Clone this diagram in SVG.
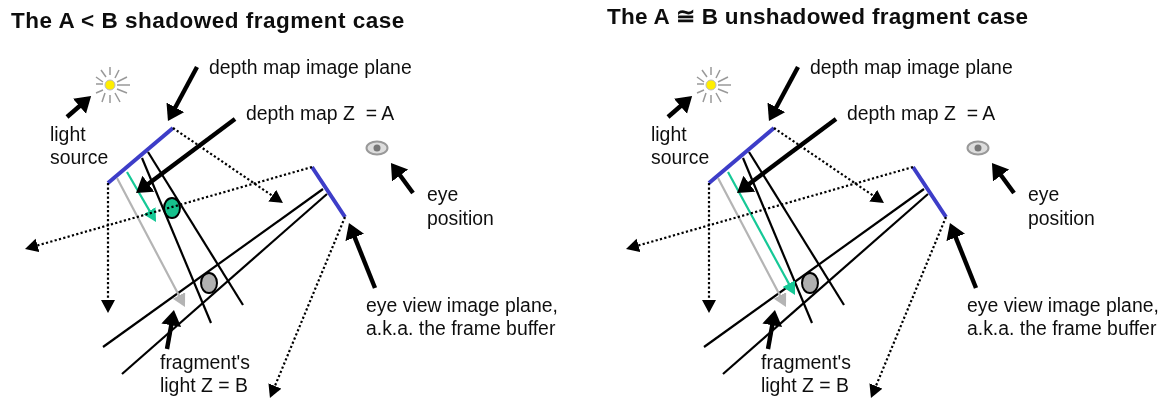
<svg xmlns="http://www.w3.org/2000/svg" width="1163" height="399" viewBox="0 0 1163 399">
<style>
text{font-family:"Liberation Sans",Arial,sans-serif;font-size:19.4px;fill:#111}
.title{font-size:22.5px;font-weight:bold}
.big{stroke:#000;stroke-width:4.4;fill:none;marker-end:url(#bigHead)}
.dot{stroke:#000;stroke-width:2.2;stroke-dasharray:2.2 2.3;fill:none;marker-end:url(#dotHead)}
.plane{stroke:#3c3cc8;stroke-width:4;fill:none}
.gray{stroke:#b4b4b4;stroke-width:2.2;fill:none;marker-end:url(#grayHead)}
.green{stroke:#14c896;stroke-width:2.2;fill:none;marker-end:url(#greenHead)}
.sunray{stroke:#999;stroke-width:1.5}
.frag{stroke:#000;stroke-width:2.2}
</style>
<defs>
<marker id="bigHead" markerUnits="userSpaceOnUse" markerWidth="18" markerHeight="21" refX="9.5" refY="10" orient="auto"><path d="M0 0L15.5 10L0 20Z" fill="#000"/></marker>
<marker id="dotHead" markerUnits="userSpaceOnUse" markerWidth="15" markerHeight="15" refX="10" refY="7" orient="auto"><path d="M0 0L13 7L0 14Z" fill="#000"/></marker>
<marker id="grayHead" markerUnits="userSpaceOnUse" markerWidth="15" markerHeight="15" refX="10" refY="7" orient="auto"><path d="M0 0L13 7L0 14Z" fill="#b4b4b4"/></marker>
<marker id="greenHead" markerUnits="userSpaceOnUse" markerWidth="15" markerHeight="15" refX="10" refY="7" orient="auto"><path d="M0 0L13 7L0 14Z" fill="#14c896"/></marker>
<filter id="soft" x="0" y="0" width="1" height="1" filterUnits="objectBoundingBox"><feGaussianBlur stdDeviation="0.45"/></filter>
<g id="sunIcon">
<circle cx="0" cy="0" r="5" fill="#ffee00" stroke="#bbb" stroke-width="1"/>
<path class="sunray" d="M7 0H20M0-10V-18M0 10V18M5-7L9-15M5 8L10 17M7-3L17-8M7 4L17 8M-4-8L-9-15M-7-3L-14-8M-7-1H-14M-7 5L-14 8M-5 8L-8 17"/>
</g>
<g id="eyeIcon">
<ellipse cx="0" cy="0" rx="10.5" ry="6.5" fill="#ddd" stroke="#999" stroke-width="2"/>
<circle cx="0" cy="0" r="3.5" fill="#777"/>
</g>
</defs>
<g filter="url(#soft)">
<rect width="1163" height="399" fill="#fff"/>
<g id="left-panel">
<text id="left-title" class="title" x="11" y="28" letter-spacing=".5">The A &lt; B shadowed fragment case</text>
<g id="left-sun"><use href="#sunIcon" x="110" y="85"/></g>
<g id="left-eye"><use href="#eyeIcon" x="377" y="148"/></g>
<g id="left-depth-plane"><line class="plane" x1="108" y1="183" x2="173" y2="128"/></g>
<g id="left-eye-plane"><line class="plane" x1="312" y1="167" x2="345" y2="217"/></g>
<g id="left-green-fragment"><ellipse cx="172" cy="208" rx="8" ry="10" fill="#14c08c" stroke="#000" stroke-width="2"/></g>
<g id="left-gray-fragment"><ellipse cx="209" cy="283" rx="8" ry="10" fill="#b0b0b0" stroke="#000" stroke-width="2"/></g>
<g id="left-connectors">
<line class="frag" x1="142" y1="158" x2="211" y2="323"/>
<line class="frag" x1="148" y1="152" x2="243" y2="305"/>
<line class="frag" x1="323" y1="189" x2="103" y2="347"/>
<line class="frag" x1="327" y1="194" x2="122" y2="374"/>
<line class="gray" x1="117" y1="178" x2="183.6" y2="304.3"/>
<line class="green" x1="127" y1="172" x2="154.5" y2="219.4"/>
<line class="dot" x1="173" y1="128" x2="280.5" y2="201.3"/>
<line class="dot" x1="312" y1="167" x2="27.9" y2="248.2"/>
<line class="dot" x1="108" y1="183" x2="108" y2="310"/>
<line class="dot" x1="345" y1="217" x2="271.1" y2="395.2"/>
<line class="big" x1="197" y1="67" x2="170.8" y2="115.7"/>
<line class="big" x1="235" y1="119" x2="140.8" y2="189.4"/>
<line class="big" x1="67" y1="117" x2="86.6" y2="100"/>
<line class="big" x1="167" y1="349" x2="172.9" y2="315.9"/>
<line class="big" x1="413" y1="193" x2="394.5" y2="167.8"/>
<line class="big" x1="375" y1="288" x2="351.2" y2="228.6"/>
</g>
<g id="left-labels">
<text x="209" y="74">depth map image plane</text>
<text x="246" y="120" xml:space="preserve">depth map Z  = A</text>
<text x="50" y="141">light</text>
<text x="50" y="164">source</text>
<text x="427" y="201">eye</text>
<text x="427" y="225">position</text>
<text x="366" y="312">eye view image plane,</text>
<text x="366" y="335">a.k.a. the frame buffer</text>
<text x="160" y="369">fragment's</text>
<text x="160" y="392">light Z = B</text>
</g>
</g>
<g id="right-panel">
<text id="right-title" class="title" x="607" y="24" letter-spacing=".3">The A ≅ B unshadowed fragment case</text>
<g transform="translate(601 0)">
<g id="right-sun"><use href="#sunIcon" x="110" y="85"/></g>
<g id="right-eye"><use href="#eyeIcon" x="377" y="148"/></g>
<g id="right-depth-plane"><line class="plane" x1="108" y1="183" x2="173" y2="128"/></g>
<g id="right-eye-plane"><line class="plane" x1="312" y1="167" x2="345" y2="217"/></g>
<g id="right-gray-fragment"><ellipse cx="209" cy="283" rx="8" ry="10" fill="#b0b0b0" stroke="#000" stroke-width="2"/></g>
<g id="right-connectors">
<line class="frag" x1="142" y1="158" x2="211" y2="323"/>
<line class="frag" x1="148" y1="152" x2="243" y2="305"/>
<line class="frag" x1="323" y1="189" x2="103" y2="347"/>
<line class="frag" x1="327" y1="194" x2="122" y2="374"/>
<line class="gray" x1="117" y1="178" x2="183.6" y2="304.3"/>
<line class="green" x1="127" y1="172" x2="192.6" y2="292.4"/>
<line class="dot" x1="173" y1="128" x2="280.5" y2="201.3"/>
<line class="dot" x1="312" y1="167" x2="27.9" y2="248.2"/>
<line class="dot" x1="108" y1="183" x2="108" y2="310"/>
<line class="dot" x1="345" y1="217" x2="271.1" y2="395.2"/>
<line class="big" x1="197" y1="67" x2="170.8" y2="115.7"/>
<line class="big" x1="235" y1="119" x2="140.8" y2="189.4"/>
<line class="big" x1="67" y1="117" x2="86.6" y2="100"/>
<line class="big" x1="167" y1="349" x2="172.9" y2="315.9"/>
<line class="big" x1="413" y1="193" x2="394.5" y2="167.8"/>
<line class="big" x1="375" y1="288" x2="351.2" y2="228.6"/>
</g>
<g id="right-labels">
<text x="209" y="74">depth map image plane</text>
<text x="246" y="120" xml:space="preserve">depth map Z  = A</text>
<text x="50" y="141">light</text>
<text x="50" y="164">source</text>
<text x="427" y="201">eye</text>
<text x="427" y="225">position</text>
<text x="366" y="312">eye view image plane,</text>
<text x="366" y="335">a.k.a. the frame buffer</text>
<text x="160" y="369">fragment's</text>
<text x="160" y="392">light Z = B</text>
</g>
</g>
</g>
</g>
</svg>
